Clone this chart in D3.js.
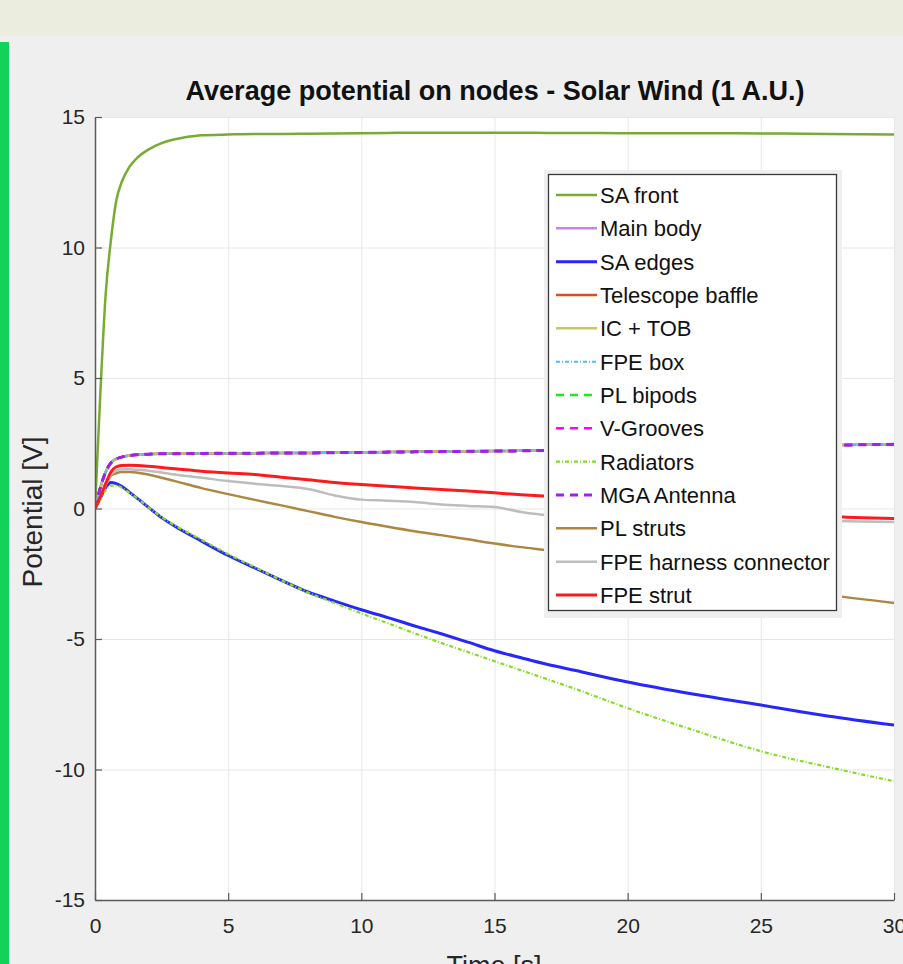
<!DOCTYPE html>
<html>
<head>
<meta charset="utf-8">
<script src="https://cdn.jsdelivr.net/npm/d3@7"></script>
<style>
  body { margin: 0; background: #efefef; }
  svg { display: block; font-family: "Liberation Sans", Arial, sans-serif; }
</style>
</head>
<body>
<div id="chart"></div>
<script>
// tiempo (s)
const time = [0, 0.2, 0.4, 0.6, 0.8, 1, 1.3, 1.6, 2, 2.5, 3, 4, 5, 6, 7, 8, 9, 10, 11, 12, 13, 14, 15, 16, 17, 18, 20, 22.5, 25, 27.5, 30];

// potencial medio (V) por nodo
const saFront      = [0, 4.4, 8.2, 10.3, 11.8, 12.5, 13.1, 13.45, 13.75, 14.0, 14.15, 14.3, 14.33, 14.35, 14.35, 14.36, 14.37, 14.38, 14.39, 14.4, 14.4, 14.4, 14.4, 14.4, 14.39, 14.39, 14.38, 14.38, 14.37, 14.35, 14.33];
const mainBody     = [0, 0.8, 1.4, 1.75, 1.9, 1.97, 2.03, 2.06, 2.08, 2.1, 2.1, 2.11, 2.12, 2.12, 2.13, 2.13, 2.14, 2.15, 2.16, 2.17, 2.18, 2.19, 2.2, 2.21, 2.23, 2.25, 2.28, 2.32, 2.37, 2.42, 2.46];
const saEdges      = [0, 0.4, 0.8, 1.0, 0.95, 0.85, 0.62, 0.38, 0.05, -0.35, -0.68, -1.25, -1.8, -2.28, -2.75, -3.2, -3.55, -3.88, -4.18, -4.5, -4.8, -5.12, -5.45, -5.72, -5.98, -6.2, -6.65, -7.12, -7.53, -7.95, -8.3];
const telBaffle    = [0, 0.8, 1.4, 1.75, 1.9, 1.97, 2.03, 2.06, 2.08, 2.1, 2.1, 2.11, 2.12, 2.12, 2.13, 2.13, 2.14, 2.15, 2.16, 2.17, 2.18, 2.19, 2.2, 2.21, 2.23, 2.25, 2.28, 2.32, 2.37, 2.42, 2.46];
const icTob        = [0, 0.8, 1.4, 1.75, 1.9, 1.97, 2.03, 2.06, 2.08, 2.1, 2.1, 2.11, 2.12, 2.12, 2.13, 2.13, 2.14, 2.15, 2.16, 2.17, 2.18, 2.19, 2.2, 2.21, 2.23, 2.25, 2.28, 2.32, 2.37, 2.42, 2.46];
const fpeBox       = [0, 0.8, 1.4, 1.75, 1.9, 1.97, 2.03, 2.06, 2.08, 2.1, 2.1, 2.11, 2.12, 2.12, 2.13, 2.13, 2.14, 2.15, 2.16, 2.17, 2.18, 2.19, 2.2, 2.21, 2.23, 2.25, 2.28, 2.32, 2.37, 2.42, 2.46];
const plBipods     = [0, 0.8, 1.4, 1.75, 1.9, 1.97, 2.03, 2.06, 2.08, 2.1, 2.1, 2.11, 2.12, 2.12, 2.13, 2.13, 2.14, 2.15, 2.16, 2.17, 2.18, 2.19, 2.2, 2.21, 2.23, 2.25, 2.28, 2.32, 2.37, 2.42, 2.46];
const vGrooves     = [0, 0.8, 1.4, 1.75, 1.9, 1.97, 2.03, 2.06, 2.08, 2.1, 2.1, 2.11, 2.12, 2.12, 2.13, 2.13, 2.14, 2.15, 2.16, 2.17, 2.18, 2.19, 2.2, 2.21, 2.23, 2.25, 2.28, 2.32, 2.37, 2.42, 2.46];
const radiators    = [0, 0.35, 0.7, 0.88, 0.88, 0.8, 0.6, 0.38, 0.05, -0.33, -0.65, -1.2, -1.75, -2.25, -2.75, -3.22, -3.62, -4.02, -4.4, -4.78, -5.15, -5.5, -5.85, -6.2, -6.55, -6.9, -7.65, -8.5, -9.3, -9.9, -10.45];
const mgaAntenna   = [0, 0.8, 1.4, 1.75, 1.9, 1.97, 2.03, 2.06, 2.08, 2.1, 2.1, 2.11, 2.12, 2.12, 2.13, 2.13, 2.14, 2.15, 2.16, 2.17, 2.18, 2.19, 2.2, 2.21, 2.23, 2.25, 2.28, 2.32, 2.37, 2.42, 2.46];
const plStruts     = [0, 0.45, 0.9, 1.25, 1.35, 1.4, 1.4, 1.37, 1.3, 1.18, 1.05, 0.78, 0.55, 0.33, 0.12, -0.1, -0.32, -0.52, -0.7, -0.87, -1.02, -1.18, -1.34, -1.48, -1.6, -1.74, -2.07, -2.48, -2.9, -3.3, -3.62];
const fpeHarness   = [0, 0.45, 0.9, 1.3, 1.45, 1.5, 1.5, 1.48, 1.45, 1.38, 1.3, 1.18, 1.05, 0.95, 0.86, 0.75, 0.5, 0.34, 0.3, 0.25, 0.15, 0.1, 0.06, -0.13, -0.25, -0.28, -0.31, -0.36, -0.42, -0.47, -0.52];
const fpeStrut     = [0, 0.45, 0.95, 1.4, 1.6, 1.65, 1.66, 1.65, 1.62, 1.57, 1.52, 1.43, 1.36, 1.3, 1.2, 1.1, 1.0, 0.92, 0.85, 0.79, 0.73, 0.67, 0.6, 0.53, 0.47, 0.4, 0.27, 0.1, -0.08, -0.3, -0.38];

const seriesNames = ["SA front", "Main body", "SA edges", "Telescope baffle", "IC + TOB", "FPE box",
                     "PL bipods", "V-Grooves", "Radiators", "MGA Antenna", "PL struts",
                     "FPE harness connector", "FPE strut"];
const seriesValues = [saFront, mainBody, saEdges, telBaffle, icTob, fpeBox, plBipods, vGrooves,
                      radiators, mgaAntenna, plStruts, fpeHarness, fpeStrut];

const xTicks = [0, 5, 10, 15, 20, 25, 30];
const yTicks = [-15, -10, -5, 0, 5, 10, 15];

// estilos (color, grosor, guiones)
const styles = [
  { color: "#77ac30", w: 2.5, dash: null },
  { color: "#c883ea", w: 2.5, dash: null },
  { color: "#2626ff", w: 3,   dash: null },
  { color: "#d95319", w: 2.5, dash: null },
  { color: "#cdc46a", w: 2.5, dash: null },
  { color: "#4dbeee", w: 2,   dash: "4,2,1,2" },
  { color: "#1ee81e", w: 2.5, dash: "8,6" },
  { color: "#ff00ff", w: 2.5, dash: "8,6" },
  { color: "#84dc24", w: 2.2, dash: "4,2,1,2" },
  { color: "#a020f0", w: 3,   dash: "8,6" },
  { color: "#ad8640", w: 2.5, dash: null },
  { color: "#bdbdbd", w: 2.5, dash: null },
  { color: "#ff1a1a", w: 3,   dash: null }
];

const W = 903, H = 964;
const svg = d3.select("#chart").append("svg").attr("width", W).attr("height", H);

// fondo
svg.append("rect").attr("width", W).attr("height", H).attr("fill", "#efefef");
svg.append("rect").attr("width", W).attr("height", 36).attr("fill", "#ebeede");
svg.append("rect").attr("x", 0).attr("y", 42).attr("width", 9).attr("height", H - 42).attr("fill", "#12d35a");

const x = d3.scaleLinear().domain([0, 30]).range([95, 894]);
const y = d3.scaleLinear().domain([-15, 15]).range([900, 117]);

// area del grafico
svg.append("rect")
  .attr("x", x(0)).attr("y", y(15))
  .attr("width", x(30) - x(0)).attr("height", y(-15) - y(15))
  .attr("fill", "#ffffff");

svg.append("clipPath").attr("id", "plotClip")
  .append("rect")
  .attr("x", x(0)).attr("y", y(15))
  .attr("width", x(30) - x(0)).attr("height", y(-15) - y(15));

// rejilla
svg.append("g")
  .attr("transform", `translate(0,${y(-15)})`)
  .call(d3.axisBottom(x).tickValues(xTicks).tickSize(-(y(-15) - y(15))).tickFormat(""))
  .call(g => g.select(".domain").remove())
  .call(g => g.selectAll("line").attr("stroke", "#e6e6e6"));
svg.append("g")
  .attr("transform", `translate(${x(0)},0)`)
  .call(d3.axisLeft(y).tickValues(yTicks).tickSize(-(x(30) - x(0))).tickFormat(""))
  .call(g => g.select(".domain").remove())
  .call(g => g.selectAll("line").attr("stroke", "#e6e6e6"));

// curvas
const line = d3.line()
  .x(d => x(d[0]))
  .y(d => y(d[1]))
  .curve(d3.curveMonotoneX);

const plot = svg.append("g").attr("clip-path", "url(#plotClip)");
seriesValues.forEach((vals, i) => {
  const st = styles[i];
  plot.append("path")
    .datum(time.map((t, k) => [t, vals[k]]))
    .attr("fill", "none")
    .attr("stroke", st.color)
    .attr("stroke-width", st.w)
    .attr("stroke-dasharray", st.dash)
    .attr("stroke-linejoin", "round")
    .attr("d", line);
});

// ejes
const fmt = d => String(d);  // guion normal, como en el original
const xAxis = svg.append("g")
  .attr("transform", `translate(0,${y(-15)})`)
  .call(d3.axisBottom(x).tickValues(xTicks).tickFormat(fmt).tickSizeInner(-7).tickSizeOuter(0).tickPadding(18));
const yAxis = svg.append("g")
  .attr("transform", `translate(${x(0)},0)`)
  .call(d3.axisLeft(y).tickValues(yTicks).tickFormat(fmt).tickSizeInner(-7).tickSizeOuter(0).tickPadding(10));
[xAxis, yAxis].forEach(ax => {
  ax.select(".domain").attr("stroke", "#5a5a5a").attr("stroke-width", 1.5);
  ax.selectAll(".tick line").attr("stroke", "#5a5a5a").attr("stroke-width", 1.2);
  ax.selectAll(".tick text")
    .attr("fill", "#262626")
    .style("font-size", "21px")
    .style("font-family", "'Liberation Sans', Arial, sans-serif");
});

// titulo y etiquetas
svg.append("text")
  .attr("x", 495).attr("y", 100)
  .attr("text-anchor", "middle")
  .style("font-size", "27px").style("font-weight", "bold")
  .attr("fill", "#111")
  .text("Average potential on nodes - Solar Wind (1 A.U.)");

svg.append("text")
  .attr("transform", "translate(42,512) rotate(-90)")
  .attr("text-anchor", "middle")
  .style("font-size", "28px")
  .attr("fill", "#262626")
  .text("Potential [V]");

svg.append("text")
  .attr("x", 494).attr("y", 975)
  .attr("text-anchor", "middle")
  .style("font-size", "27px")
  .attr("fill", "#262626")
  .text("Time [s]");

// leyenda
const lg = svg.append("g");
lg.append("rect")
  .attr("x", 544).attr("y", 170).attr("width", 298).attr("height", 448)
  .attr("fill", "#efefef");
lg.append("rect")
  .attr("x", 548.5).attr("y", 174.5).attr("width", 288).attr("height", 436)
  .attr("fill", "#ffffff").attr("stroke", "#3a3a3a").attr("stroke-width", 1.3);

const rowY = i => 195 + i * 33.33;
seriesNames.forEach((name, i) => {
  const st = styles[i];
  lg.append("line")
    .attr("x1", 556).attr("x2", 597)
    .attr("y1", rowY(i)).attr("y2", rowY(i))
    .attr("stroke", st.color)
    .attr("stroke-width", st.w)
    .attr("stroke-dasharray", st.dash);
  lg.append("text")
    .attr("x", 600).attr("y", rowY(i) + 8)
    .style("font-size", "22px")
    .attr("fill", "#111")
    .text(name);
});
</script>
</body>
</html>
